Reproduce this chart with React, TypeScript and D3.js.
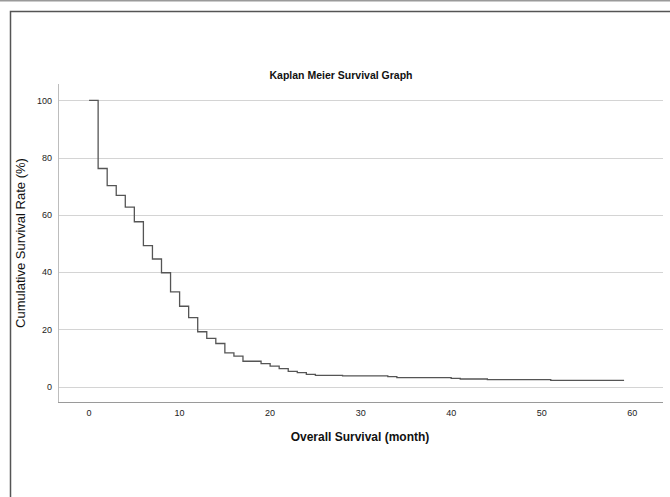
import React from "react";
import * as d3 from "d3";

const titleText = "Kaplan Meier Survival Graph";
const xTitle = "Overall Survival (month)";
const yTitle = "Cumulative Survival Rate (%)";

const eventMonths = [0, 1, 2, 3, 4, 5, 6, 7, 8, 9, 10, 11, 12, 13, 14, 15, 16, 17, 19, 20, 21, 22, 23, 24, 25, 28, 33, 34, 40, 41, 44, 51];
const survivalPct = [100, 76.2, 70.2, 66.8, 62.7, 57.6, 49.3, 44.6, 39.8, 33.1, 28.1, 24.1, 19.2, 16.9, 15.1, 11.8, 10.7, 8.9, 8.1, 7.2, 6.3, 5.4, 4.9, 4.3, 4.0, 3.8, 3.5, 3.2, 2.9, 2.7, 2.5, 2.2];
const lastFollowUp = 59.1;

const xTicks = [0, 10, 20, 30, 40, 50, 60];
const yTicks = [0, 20, 40, 60, 80, 100];

const W = 670;
const H = 497;

export default function App() {
  const x = d3.scaleLinear().domain([-3.4, 63.4]).range([58.3, 663]);
  const y = d3.scaleLinear().domain([-5.5, 105.7]).range([402.5, 84]);

  const pts: [number, number][] = eventMonths.map((m, i) => [m, survivalPct[i]]);
  pts.push([lastFollowUp, survivalPct[survivalPct.length - 1]]);

  const line = d3
    .line<[number, number]>()
    .x((d) => x(d[0]))
    .y((d) => y(d[1]))
    .curve(d3.curveStepAfter);

  const font = "'Liberation Sans', Arial, sans-serif";

  return (
    <svg
      width={W}
      height={H}
      style={{ position: "absolute", left: 0, top: 0, background: "#fff" }}
      fontFamily={font}
    >
      <rect x={0} y={0} width={W} height={H} fill="#fff" />
      {/* outer frame */}
      <line x1={0} x2={W} y1={0.75} y2={0.75} stroke="#9a9a9a" strokeWidth={1.5} />
      <path d={`M10.5,${H} V11.5 H${W}`} fill="none" stroke="#555" strokeWidth={1.5} />

      {/* title */}
      <text x={341} y={78.5} textAnchor="middle" fontSize={10.5} fontWeight="bold" fill="#111">
        {titleText}
      </text>

      {/* gridlines */}
      {yTicks.map((t) => (
        <line key={t} x1={58.3} x2={663} y1={Math.round(y(t)) + 0.5} y2={Math.round(y(t)) + 0.5} stroke="#d4d4d4" strokeWidth={1} />
      ))}

      {/* y axis line */}
      <line x1={58.5} x2={58.5} y1={84} y2={403} stroke="#bdbdbd" strokeWidth={1} />
      {/* x axis line */}
      <line x1={58} x2={663} y1={402.5} y2={402.5} stroke="#9a9a9a" strokeWidth={1.2} />

      {/* y tick labels */}
      {yTicks.map((t) => (
        <text key={t} x={52} y={y(t) + 3.2} textAnchor="end" fontSize={9} fill="#222">
          {t}
        </text>
      ))}

      {/* x tick labels */}
      {xTicks.map((t) => (
        <text key={t} x={x(t)} y={416} textAnchor="middle" fontSize={9} fill="#222">
          {t}
        </text>
      ))}

      {/* axis titles */}
      <text x={360} y={441} textAnchor="middle" fontSize={12} fontWeight="bold" fill="#111">
        {xTitle}
      </text>
      <text
        transform={`translate(24.5,243) rotate(-90)`}
        textAnchor="middle"
        fontSize={13}
        fill="#111"
      >
        {yTitle}
      </text>

      {/* KM curve */}
      <path d={line(pts) || ""} fill="none" stroke="#555" strokeWidth={1.3} />
    </svg>
  );
}
